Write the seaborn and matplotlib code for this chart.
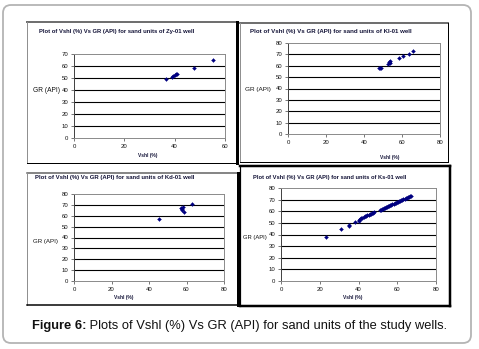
import matplotlib
matplotlib.use('Agg')
import matplotlib.pyplot as plt
import seaborn as sns
import pandas as pd
from matplotlib.lines import Line2D
from matplotlib.patches import FancyBboxPatch
from matplotlib.transforms import Affine2D

# ---------------- data ----------------
zy_vshl = [36.5, 38.8, 39.4, 40.0, 40.4, 40.8, 47.7, 55.4]
zy_gr = [49.0, 51.0, 52.0, 52.5, 53.0, 53.5, 58.3, 65.0]

ki_vshl = [48.0, 49.2, 52.4, 53.1, 53.8, 58.2, 60.5, 63.8, 65.7, 48.6, 53.5]
ki_gr = [57.6, 58.4, 61.9, 63.0, 63.9, 66.9, 68.3, 70.6, 73.0, 58.0, 62.5]

kd_vshl = [45.4, 56.9, 57.4, 58.2, 58.5, 63.1, 57.8]
kd_gr = [56.8, 66.9, 65.3, 67.8, 63.2, 71.1, 66.0]

ks_vshl = [23.0, 31.0, 35.0, 35.2, 38.0, 40.0, 40.3, 40.8, 41.5, 42.0, 42.6, 43.3,
           44.0, 44.5, 45.2, 45.8, 46.5, 47.0, 47.6, 48.2, 51.0, 51.5, 52.0, 52.6,
           53.1, 53.7, 54.2, 54.8, 55.3, 55.9, 56.4, 57.0, 57.5, 58.1, 58.6, 59.2,
           59.8, 60.3, 60.9, 61.5, 62.0, 62.6, 63.2, 63.8, 64.3, 64.9, 65.5, 66.0,
           66.5, 67.0]
ks_gr = [37.8, 45.0, 47.5, 48.0, 50.8, 52.0, 52.8, 53.5, 54.0, 54.6, 55.0, 55.6,
         56.0, 56.4, 57.0, 57.4, 57.8, 58.3, 58.8, 59.2, 61.0, 61.3, 61.8, 62.3,
         62.6, 63.0, 63.5, 64.0, 64.3, 64.8, 65.1, 65.6, 66.0, 66.4, 66.9, 67.3,
         67.8, 68.2, 68.7, 69.1, 69.5, 70.0, 70.4, 70.9, 71.3, 71.8, 72.2, 72.6,
         73.0, 73.3]

wells = ["Zy-01", "KI-01", "Kd-01", "Ks-01"]
x_label = "Vshl (%)"
y_label = "GR (API)"
caption_bold = "Figure 6:"
caption_rest = " Plots of Vshl (%) Vs GR (API) for sand units of the study wells."

# ---------------- figure ----------------
sns.set_theme(style='white')
plt.rcParams['font.family'] = ['Liberation Sans', 'DejaVu Sans']

W, H = 479, 349
fig = plt.figure(figsize=(W / 100, H / 100), dpi=100)
fig.patch.set_facecolor('white')
pix = Affine2D().scale(1 / 100) + fig.dpi_scale_trans
renderer = fig.canvas.get_renderer()


def line(x0, y0, x1, y1, color, lw):
    fig.add_artist(Line2D([x0, x1], [H - y0, H - y1], transform=pix,
                          color=color, lw=lw * 0.72, solid_capstyle='projecting'))


def txt(x, y, s, size, weight='normal', ha='left', color='black'):
    return fig.text(x, H - y, s, transform=pix, fontsize=size, fontweight=weight,
                    ha=ha, va='center', color=color)


def fit(t, target_w):
    bb = t.get_window_extent(renderer)
    t.set_fontsize(t.get_fontsize() * target_w / bb.width)


# outer rounded box
box = FancyBboxPatch((3, H - 343), 468, 338, transform=pix,
                     boxstyle='round,pad=0,rounding_size=8',
                     facecolor='none', edgecolor='#b4b4b4', lw=1.3)
fig.add_artist(box)

# panel frames (x0, y0, x1, y1), border styles (top, left, bottom, right)
frames = [
    ((27, 22, 237, 163), [('#707070', 2), ('#909090', 1), ('black', 1), ('black', 3)]),
    ((240, 23, 448, 162), [('#707070', 2), ('#909090', 1), ('black', 1), ('black', 1)]),
    ((27, 173, 238, 305), [('#606060', 1.5), ('#909090', 1), ('black', 1.5), ('black', 3)]),
    ((240, 166, 450, 306), [('black', 2.5), ('black', 1.2), ('black', 2.5), ('black', 2.5)]),
]
for (x0, y0, x1, y1), st in frames:
    line(x0, y0, x1, y0, *st[0])
    line(x0, y0, x0, y1, *st[1])
    line(x0, y1, x1, y1, *st[2])
    line(x1, y0, x1, y1, *st[3])

# plot areas in pixels (left, top, right, bottom)
areas = [(74, 54, 225, 138), (288, 43, 440, 134), (74, 194, 224, 281), (281, 188, 436, 281)]
xmaxs = [60, 80, 80, 80]
ymaxs = [70, 80, 80, 80]
datas = [(zy_vshl, zy_gr), (ki_vshl, ki_gr), (kd_vshl, kd_gr), (ks_vshl, ks_gr)]

for (l, t, r, b), xm, ym, (xs, ys) in zip(areas, xmaxs, ymaxs, datas):
    ax = fig.add_axes([l / W, 1 - b / H, (r - l) / W, (b - t) / H])
    ax.set_facecolor('white')
    df = pd.DataFrame({'Vshl': xs, 'GR': ys})
    sns.scatterplot(data=df, x='Vshl', y='GR', ax=ax, marker='D', s=4,
                    color='#000080', edgecolor='#000080', linewidth=0.25, zorder=5)
    ax.set_xlabel('')
    ax.set_ylabel('')
    ax.set_xlim(0, xm)
    ax.set_ylim(0, ym)
    ax.set_xticks(list(range(0, xm + 1, 20)))
    ax.set_yticks(list(range(0, ym + 1, 10)))
    ax.tick_params(axis='both', direction='out', length=2.2, width=0.5,
                   labelsize=4.3, color='#404040', labelcolor='#111111', pad=1.8,
                   bottom=True, left=True)
    for name, sp in ax.spines.items():
        sp.set_visible(True)
        sp.set_linewidth(0.7)
        sp.set_color('#404040' if name == 'left' else '#8a8a8a')
    ax.yaxis.grid(True, color='black', lw=0.8)
    ax.xaxis.grid(False)
    gl = ax.get_ygridlines()
    gl[-1].set_visible(False)
    gl[0].set_visible(False)

# titles
title_pos = [(39, 32, 156), (250, 31, 164), (35, 177, 160), (253, 177, 155)]
for (x, y, w), well in zip(title_pos, wells):
    t = txt(x, y, f"Plot of Vshl (%) Vs GR (API) for sand units of {well} well", 3.6,
            weight='bold', color='#141438')
    fit(t, w)

# y labels
ylab_pos = [(33, 90, 27), (245, 90, 26), (33, 241, 25), (243, 238, 24)]
for x, y, w in ylab_pos:
    t = txt(x, y, y_label, 4.2, color='#111111')
    fit(t, w)

# x labels
xlab_pos = [(148, 155), (390, 157), (124, 298), (353, 298)]
for x, y in xlab_pos:
    t = txt(x, y, x_label, 4.0, weight='bold', ha='center', color='#141438')
    fit(t, 19)

# caption
cx0, cy, cw = 32, 326, 415
size = 8.3
cb = txt(cx0, cy, caption_bold, size, weight='bold', color='#111111')
cr = txt(cx0, cy, caption_rest, size, color='#111111')
for _ in range(3):
    wb = cb.get_window_extent(renderer).width
    cr.set_x(cx0 + wb)
    total = wb + cr.get_window_extent(renderer).width
    size = size * cw / total
    cb.set_fontsize(size)
    cr.set_fontsize(size)
wb = cb.get_window_extent(renderer).width
cr.set_x(cx0 + wb)

fig.savefig('out.png', dpi=100, facecolor='white')
